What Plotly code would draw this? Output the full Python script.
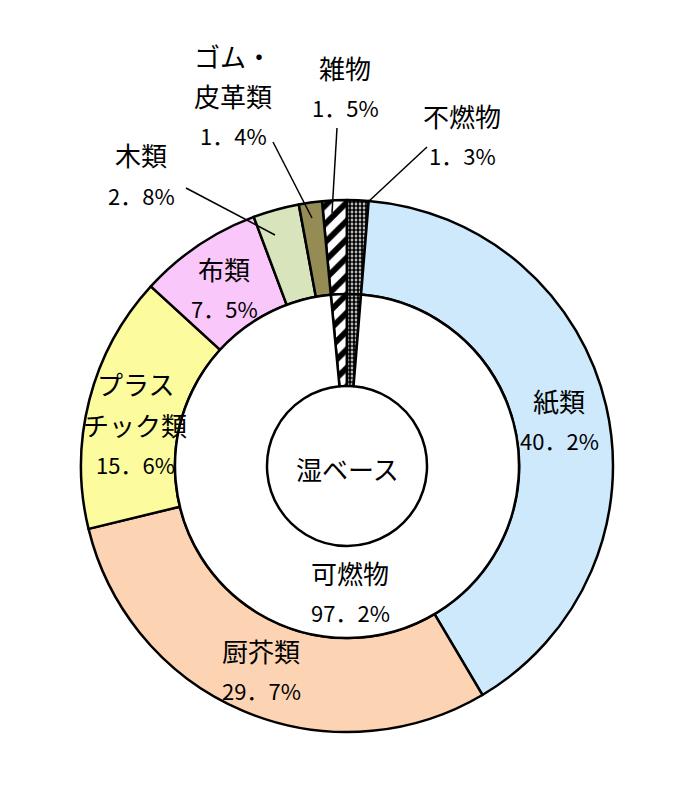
import plotly.graph_objects as go

# the page body adds an 8px margin, so the figure is sized to fit what is left
OFF = 8
W, H = 683 - OFF, 800 - OFF

# outer ring: composition (wet basis), clockwise from the top
outer_names = ["雑物", "不燃物", "紙類", "厨芥類", "プラスチック類", "布類", "木類", "ゴム・皮革類"]
outer_values = [1.5, 1.3, 40.2, 29.7, 15.6, 7.5, 2.8, 1.4]
outer_colors = ["white", "white", "#cde9fb", "#fcd4b4", "#fcfb9d", "#f9c7f9", "#d7e4bc", "#958b55"]
outer_patterns = ["/", ".", "", "", "", "", "", ""]

# inner ring: combustible vs the rest
inner_names = ["雑物", "不燃物", "可燃物"]
inner_values = [1.5, 1.3, 97.2]
inner_patterns = ["/", ".", ""]

# label text lines (name lines, the value is added below)
label_lines = {
    "紙類": ["紙類"],
    "厨芥類": ["厨芥類"],
    "プラスチック類": ["プラス", "チック類"],
    "布類": ["布類"],
    "木類": ["木類"],
    "ゴム・皮革類": ["ゴム・", "皮革類"],
    "雑物": ["雑物"],
    "不燃物": ["不燃物"],
    "可燃物": ["可燃物"],
}


def px(x, y):
    # reference pixel -> paper coords
    return (x - OFF) / W, 1 - (y - OFF) / H


def fmt(v):
    return f"{v:.1f}".replace(".", "．") + "%"


cx, cy = 347, 466
r_out, r_mid, r_in = 266, 172, 80


def dom(r):
    x0, y1 = px(cx - r, cy - r)
    x1, y0 = px(cx + r, cy + r)
    return dict(x=[x0, x1], y=[y0, y1])


fig = go.Figure()

fig.add_trace(go.Pie(
    labels=outer_names,
    values=outer_values,
    sort=False,
    direction="clockwise",
    rotation=-5.4,
    hole=r_mid / r_out,
    textinfo="none",
    showlegend=False,
    marker=dict(
        colors=outer_colors,
        line=dict(color="black", width=2.5),
        pattern=dict(shape=outer_patterns, fgcolor="black", size=[13, 4, 8, 8, 8, 8, 8, 8],
                     solidity=[0.45, 0.7, 0.3, 0.3, 0.3, 0.3, 0.3, 0.3]),
    ),
    domain=dom(r_out),
))

fig.add_trace(go.Pie(
    labels=inner_names,
    values=inner_values,
    sort=False,
    direction="clockwise",
    rotation=-5.4,
    hole=r_in / r_mid,
    textinfo="none",
    showlegend=False,
    marker=dict(
        colors=["white", "white", "white"],
        line=dict(color="black", width=2.5),
        pattern=dict(shape=inner_patterns, fgcolor="black", size=[13, 4, 8],
                     solidity=[0.45, 0.7, 0.3]),
    ),
    domain=dom(r_mid),
))

# label placement: (x center, y of first line), reference pixels
label_pos = {
    "紙類": (559, 400),
    "厨芥類": (261, 650),
    "プラスチック類": (135, 384),
    "布類": (224, 268),
    "木類": (141, 155),
    "ゴム・皮革類": (233, 55),
    "雑物": (345, 67),
    "不燃物": (462, 115),
    "可燃物": (350, 572),
}
values_all = dict(zip(outer_names, outer_values))
values_all["可燃物"] = inner_values[2]

name_font = dict(family="Noto Sans CJK JP", size=26, color="black")
num_font = dict(family="Noto Sans CJK JP", size=22, color="black")
annotations = []
for name, (x, y) in label_pos.items():
    lines = label_lines[name]
    for i, t in enumerate(lines + [fmt(values_all[name])]):
        ax, ay = px(x, y + i * 40)
        annotations.append(dict(x=ax, y=ay, xref="paper", yref="paper", text=t,
                                showarrow=False, font=name_font if i < len(lines) else num_font,
                                xanchor="center", yanchor="middle"))

ax, ay = px(cx, 468)
annotations.append(dict(x=ax, y=ay, xref="paper", yref="paper", text="湿ベース",
                        showarrow=False, font=name_font, xanchor="center", yanchor="middle"))

# leader lines
leaders = [
    ((186, 188), (275, 235)),
    ((273, 142), (312, 218)),
    ((337, 128), (332, 213)),
    ((427, 147), (368, 202)),
]
shapes = []
for (x0, y0), (x1, y1) in leaders:
    a0, b0 = px(x0, y0)
    a1, b1 = px(x1, y1)
    shapes.append(dict(type="line", xref="paper", yref="paper", x0=a0, y0=b0, x1=a1, y1=b1,
                       line=dict(color="black", width=1.5)))

fig.update_layout(
    width=W, height=H,
    margin=dict(l=0, r=0, t=0, b=0),
    paper_bgcolor="white",
    plot_bgcolor="white",
    annotations=annotations,
    shapes=shapes,
)

fig.write_html("out.html")
